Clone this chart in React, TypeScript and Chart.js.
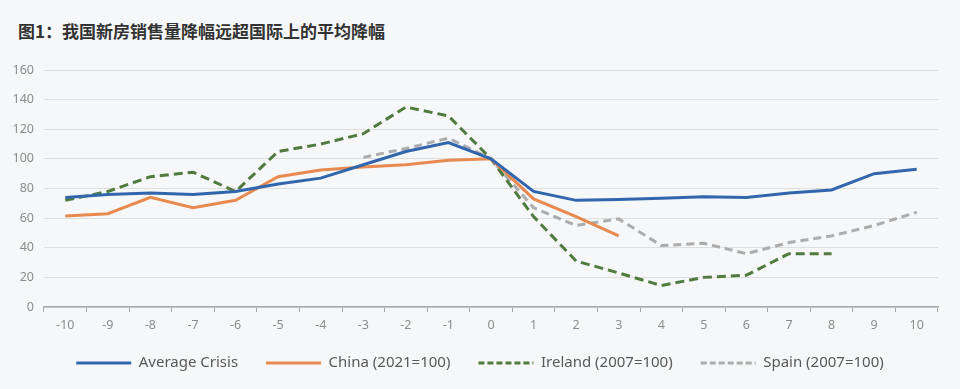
import React, { useEffect, useRef } from "react";
import { Chart, registerables } from "chart.js";

Chart.register(...registerables);

const TITLE = "图1：我国新房销售量降幅远超国际上的平均降幅";
const categories = ["-10","-9","-8","-7","-6","-5","-4","-3","-2","-1","0","1","2","3","4","5","6","7","8","9","10"];
const averageCrisis = [74, 76, 77, 76, 78, 83, 87, 96, 105, 111, 100, 78, 72, 72.5, 73.5, 74.5, 74, 77, 79, 90, 93];
const china = [61.5, 63, 74, 67, 72, 88, 92.5, 94.5, 96, 99, 100, 73, 61, 48, null, null, null, null, null, null, null];
const ireland = [72, 78, 88, 91, 78, 105, 110, 117, 135, 129, 100, 61, 31, 23, 14.5, 20, 21.5, 36, 36, null, null];
const spain = [null, null, null, null, null, null, null, 101, 107, 114, 100, 67, 55, 59.5, 41.5, 43, 36, 43.5, 48, 55, 64];
const yTicks = [0, 20, 40, 60, 80, 100, 120, 140, 160];
const legendDashes = [[], [], [6, 3], [6, 3]];

const shiftLegend = {
  id: "shiftLegend",
  afterLayout(chart: any) {
    const lg = chart.legend;
    if (lg) {
      lg.left += 11;
      lg.right += 11;
      lg.top -= 8.5;
      lg.bottom -= 8.5;
    }
  },
};

export default function App() {
  const ref = useRef<HTMLCanvasElement | null>(null);
  useEffect(() => {
    if (!ref.current) return;
    const font = "'Noto Sans', 'Open Sans', sans-serif";
    const chart = new Chart(ref.current, {
      type: "line",
      data: {
        labels: categories,
        datasets: [
          { label: "Average Crisis", data: averageCrisis, borderColor: "#3166ad", backgroundColor: "#3166ad", borderWidth: 3, pointRadius: 0, tension: 0 },
          { label: "China (2021=100)", data: china, borderColor: "#e88a4f", backgroundColor: "#e88a4f", borderWidth: 3, pointRadius: 0, tension: 0 },
          { label: "Ireland (2007=100)", data: ireland, borderColor: "#517a3f", backgroundColor: "#517a3f", borderWidth: 3, borderDash: [9, 5], pointRadius: 0, tension: 0 },
          { label: "Spain (2007=100)", data: spain, borderColor: "#acacac", backgroundColor: "#acacac", borderWidth: 3, borderDash: [8, 5], pointRadius: 0, tension: 0 },
        ],
      },
      options: {
        animation: false,
        responsive: false,
        layout: { padding: { left: 0, right: 22, top: 70, bottom: 0 } },
        scales: {
          x: {
            type: "category",
            offset: true,
            grid: { display: true, offset: true, drawOnChartArea: false, drawTicks: true, tickLength: 5, color: "#a8a8a8", lineWidth: 1 },
            border: { display: true, color: "#a8a8a8", width: 1.5 },
            ticks: { color: "#8c8c8c", font: { family: font, size: 12.5 }, padding: 6, maxRotation: 0, autoSkip: false },
            afterFit: (s: any) => { s.height = 29; },
          },
          y: {
            min: 0,
            max: 160,
            afterBuildTicks: (s: any) => { s.ticks = yTicks.map((v) => ({ value: v })); },
            grid: { color: "#dedede", lineWidth: 1, drawTicks: false },
            border: { display: false },
            ticks: { color: "#8c8c8c", font: { family: font, size: 12.5 }, padding: 10 },
            afterFit: (s: any) => { s.width = 44; },
          },
        },
        plugins: {
          legend: {
            position: "bottom",
            labels: {
              usePointStyle: true,
              pointStyle: "line",
              pointStyleWidth: 55,
              boxHeight: 15,
              padding: 28,
              color: "#595959",
              font: { family: font, size: 15 },
              generateLabels: (c: any) => {
                const items = Chart.defaults.plugins.legend.labels.generateLabels(c);
                items.forEach((it: any, i: number) => {
                  it.lineDash = legendDashes[i] || [];
                  it.lineWidth = 3;
                });
                return items;
              },
            },
          },
          tooltip: { enabled: false },
        },
      },
      plugins: [shiftLegend],
    });
    return () => chart.destroy();
  }, []);
  return (
    <div style={{ position: "fixed", left: 0, top: 0, width: 960, height: 389, background: "#f6f7f8", overflow: "hidden" }}>
      <div style={{ position: "absolute", left: 18, top: 19, fontFamily: "'Noto Sans CJK SC', sans-serif", fontWeight: 700, fontSize: 17, lineHeight: "24px", color: "#333333" }}>{TITLE}</div>
      <canvas ref={ref} width={960} height={389} style={{ position: "absolute", left: 0, top: 0, width: 960, height: 389 }} />
    </div>
  );
}
